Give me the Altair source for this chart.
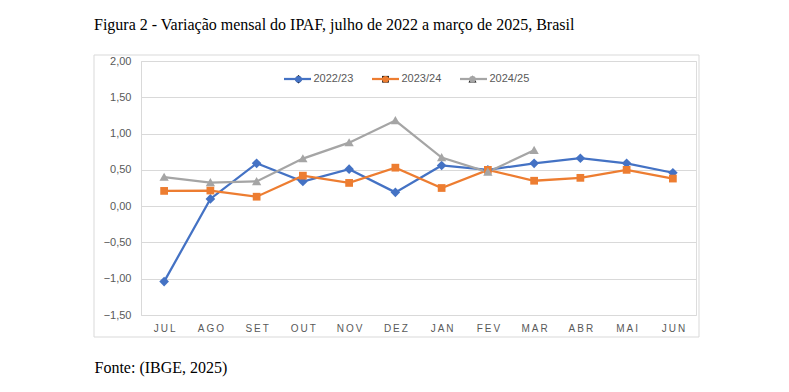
import altair as alt
import pandas as pd

meses = ["JUL", "AGO", "SET", "OUT", "NOV", "DEZ", "JAN", "FEV", "MAR", "ABR", "MAI", "JUN"]
series = ["2022/23", "2023/24", "2024/25"]
v2022_23 = [-1.04, 0.10, 0.59, 0.34, 0.51, 0.19, 0.56, 0.50, 0.59, 0.66, 0.59, 0.46]
v2023_24 = [0.21, 0.215, 0.13, 0.42, 0.32, 0.53, 0.25, 0.50, 0.35, 0.39, 0.50, 0.38]
v2024_25 = [0.40, 0.325, 0.34, 0.655, 0.875, 1.18, 0.67, 0.47, 0.77]
cores = ["#4472C4", "#ED7D31", "#A5A5A5"]
formas = [
    "M0,-1.25L1.25,0L0,1.25L-1.25,0Z",
    "square",
    "M0,-1.15L1.2,0.95L-1.2,0.95Z",
]
y_ticks = [-1.5, -1.0, -0.5, 0.0, 0.5, 1.0, 1.5, 2.0]

rows = []
for s, vals in zip(series, [v2022_23, v2023_24, v2024_25]):
    for i, v in enumerate(vals):
        rows.append({"mes": meses[i], "serie": s, "valor": v, "ord": series.index(s)})
df = pd.DataFrame(rows)

W, H = 555, 254
LABEL_COLOR = "#595959"
GRID = "#d9d9d9"

x_enc = alt.X(
    "mes:O",
    sort=meses,
    scale=alt.Scale(domain=meses, paddingOuter=0.5),
    axis=alt.Axis(
        labelAngle=0,
        labelFont="Liberation Sans",
        labelFontSize=10,
        labelColor=LABEL_COLOR,
        labelPadding=8,
        labelExpr="join(split(datum.label, ''), '\u2009')",
        ticks=False,
        domain=False,
        grid=False,
        title="Fonte: (IBGE, 2025)",
        titleFont="Liberation Serif",
        titleFontSize=16,
        titleFontWeight="normal",
        titleColor="black",
        titleX=-47,
        titleY=57,
        titleAlign="left",
        titleAnchor="start",
        titleBaseline="alphabetic",
    ),
)
y_enc = alt.Y(
    "valor:Q",
    scale=alt.Scale(domain=[-1.5, 2.0], nice=False, zero=False),
    axis=alt.Axis(
        values=y_ticks,
        labelExpr="replace(format(datum.value, '.2f'), '.', ',')",
        labelFont="Liberation Sans",
        labelFontSize=11,
        labelColor=LABEL_COLOR,
        labelPadding=10,
        ticks=False,
        domain=True,
        domainColor=GRID,
        gridColor=GRID,
        gridWidth=1,
        title=None,
    ),
)

frame = alt.Chart(pd.DataFrame({"a": [0]})).mark_rect(
    fillOpacity=0, stroke=GRID, strokeWidth=1
).encode(
    x=alt.value(-47), x2=alt.value(558), y=alt.value(-6), y2=alt.value(276)
)

lines = alt.Chart(df).mark_line(strokeWidth=2.25).encode(
    x=x_enc,
    y=y_enc,
    order="ord:Q",
    color=alt.Color(
        "serie:N",
        scale=alt.Scale(domain=series, range=cores),
        legend=alt.Legend(
            orient="none",
            legendX=141.5,
            legendY=3,
            direction="horizontal",
            title=None,
            padding=0,
            symbolType="stroke",
            symbolSize=729,
            symbolStrokeWidth=2.25,
            labelFont="Liberation Sans",
            labelFontSize=11,
            labelColor=LABEL_COLOR,
            labelOffset=1,
            columnPadding=14,
        ),
    ),
)

pt_legend = alt.Legend(
    orient="none",
    legendX=152,
    legendY=12.5,
    direction="horizontal",
    title=None,
    padding=0,
    symbolSize=45,
    symbolStrokeWidth=0,
    labelFont="Liberation Sans",
    labelFontSize=11,
    labelColor=LABEL_COLOR,
    labelOpacity=0,
    labelOffset=11,
    columnPadding=25,
)

points = alt.Chart(df).mark_point(filled=True, size=60, opacity=1).encode(
    x=x_enc,
    y=y_enc,
    color=alt.Color(
        "serie:N",
        scale=alt.Scale(domain=series, range=cores),
        legend=pt_legend,
    ),
    shape=alt.Shape(
        "serie:N",
        scale=alt.Scale(domain=series, range=formas),
        legend=pt_legend,
    ),
)

chart = (
    alt.layer(frame, lines, points)
    .resolve_scale(color="independent")
    .properties(
        width=W,
        height=H,
        autosize=alt.AutoSizeParams(type="none"),
        padding={"left": 133, "top": 53, "right": 85, "bottom": 69},
        title=alt.TitleParams(
            "Figura 2 - Variação mensal do IPAF, julho de 2022 a março de 2025, Brasil",
            anchor="start",
            frame="group",
            dx=-47,
            offset=9,
            font="Liberation Serif",
            fontSize=16,
            fontWeight="normal",
            color="black",
            baseline="alphabetic",
        ),
    )
    .configure_view(stroke=None)
    .configure(background="white")
)

chart.save("out.html", embed_options={"renderer": "svg", "actions": False})
